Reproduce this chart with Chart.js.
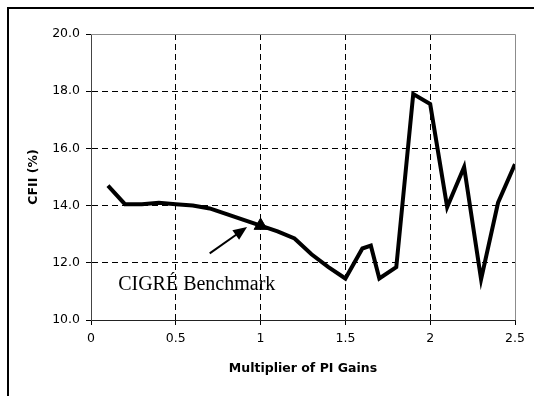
<!DOCTYPE html>
<html>
<head>
<meta charset="utf-8">
<script src="https://cdn.jsdelivr.net/npm/chart.js@4"></script>
<style>
  html, body { margin: 0; padding: 0; background: #fff; overflow: hidden; }
  #wrap { width: 534px; height: 396px; }
</style>
</head>
<body>
<div id="wrap"><canvas id="cfiiChart" width="534" height="396"></canvas></div>
<script>
// multiplier of PI gains vs CFII
const gains = [0.1, 0.2, 0.3, 0.4, 0.5, 0.6, 0.7, 0.8, 0.9, 1.0, 1.1, 1.2, 1.3, 1.4, 1.5, 1.6, 1.65, 1.7, 1.8, 1.9, 2.0, 2.1, 2.2, 2.3, 2.4, 2.5];
const cfii = [14.7, 14.05, 14.05, 14.1, 14.05, 14.0, 13.9, 13.7, 13.5, 13.3, 13.1, 12.85, 12.3, 11.85, 11.45, 12.5, 12.6, 11.45, 11.85, 17.9, 17.55, 13.95, 15.35, 11.42, 14.1, 15.45];

// CIGRE benchmark point
const benchmark = [{ x: 1.0, y: 13.3 }];

const xTickLabels = ['0', '0.5', '1', '1.5', '2', '2.5'];
const yTickLabels = ['10.0', '12.0', '14.0', '16.0', '18.0', '20.0'];

// annotation (data units)
const note = { text: 'CIGRÉ Benchmark', x: 0.16, y: 11.05, arrowFrom: [0.70, 12.33], arrowTo: [0.92, 13.25] };

const framePlugin = {
    id: 'frame',
    beforeDraw(chart) {
        const ctx = chart.ctx;
        ctx.save();
        ctx.strokeStyle = '#000';
        ctx.lineWidth = 2;
        ctx.strokeRect(8, 8, 560, 420);
        ctx.restore();
    },
    afterDraw(chart) {
        const { ctx, chartArea, scales } = chart;
        ctx.save();
        // top and right edge of the plot
        ctx.strokeStyle = '#8c8c8c';
        ctx.lineWidth = 1;
        ctx.beginPath();
        ctx.moveTo(chartArea.left, chartArea.top + 0.5);
        ctx.lineTo(chartArea.right + 0.5, chartArea.top + 0.5);
        ctx.lineTo(chartArea.right + 0.5, chartArea.bottom);
        ctx.stroke();

        // arrow
        const x1 = scales.x.getPixelForValue(note.arrowFrom[0]);
        const y1 = scales.y.getPixelForValue(note.arrowFrom[1]);
        const x2 = scales.x.getPixelForValue(note.arrowTo[0]);
        const y2 = scales.y.getPixelForValue(note.arrowTo[1]);
        const ang = Math.atan2(y2 - y1, x2 - x1);
        const head = 15;
        ctx.strokeStyle = '#000';
        ctx.fillStyle = '#000';
        ctx.lineWidth = 2;
        ctx.beginPath();
        ctx.moveTo(x1, y1);
        ctx.lineTo(x2 - head * 0.8 * Math.cos(ang), y2 - head * 0.8 * Math.sin(ang));
        ctx.stroke();
        ctx.beginPath();
        ctx.moveTo(x2, y2);
        ctx.lineTo(x2 - head * Math.cos(ang - 0.4), y2 - head * Math.sin(ang - 0.4));
        ctx.lineTo(x2 - head * Math.cos(ang + 0.4), y2 - head * Math.sin(ang + 0.4));
        ctx.closePath();
        ctx.fill();

        // label
        ctx.font = '20px "Liberation Serif", "Times New Roman", serif';
        ctx.textAlign = 'left';
        ctx.textBaseline = 'alphabetic';
        ctx.fillText(note.text, scales.x.getPixelForValue(note.x), scales.y.getPixelForValue(note.y));
        ctx.restore();
    }
};

const tickFont = { family: '"DejaVu Sans", sans-serif', size: 12.5 };
const titleFont = { family: '"DejaVu Sans", sans-serif', size: 12.5, weight: 'bold' };

new Chart(document.getElementById('cfiiChart').getContext('2d'), {
    type: 'line',
    data: {
        datasets: [{
            label: 'CFII',
            data: gains.map((g, i) => ({ x: g, y: cfii[i] })),
            borderColor: '#000',
            borderWidth: 4,
            pointRadius: 0,
            tension: 0,
            order: 2
        }, {
            label: 'CIGRE Benchmark',
            data: benchmark,
            showLine: false,
            pointStyle: 'triangle',
            pointRadius: 7.5,
            backgroundColor: '#000',
            borderColor: '#000',
            borderWidth: 1,
            order: 1
        }]
    },
    options: {
        responsive: false,
        animation: false,
        layout: { padding: { top: 34, right: 19, left: 0, bottom: 0 } },
        plugins: { legend: { display: false }, tooltip: { enabled: false } },
        scales: {
            x: {
                type: 'linear',
                min: 0,
                max: 2.5,
                afterFit: s => { s.height = 76; },
                ticks: {
                    stepSize: 0.5,
                    color: '#000',
                    font: tickFont,
                    padding: 6,
                    maxRotation: 0,
                    callback: (v, i) => xTickLabels[i]
                },
                grid: {
                    color: c => (c.tick && c.tick.value > 0 && c.tick.value < 2.5) ? '#000' : 'rgba(0,0,0,0)',
                    tickColor: '#000',
                    tickLength: 5,
                    lineWidth: 1
                },
                border: { color: '#222', width: 1, dash: [6, 4] },
                title: { display: true, text: 'Multiplier of PI Gains', color: '#000', font: titleFont, padding: { top: 0, bottom: 19.5 } }
            },
            y: {
                min: 10,
                max: 20,
                afterFit: s => { s.width = 91; },
                ticks: {
                    stepSize: 2,
                    color: '#000',
                    font: tickFont,
                    padding: 6,
                    callback: (v, i) => yTickLabels[i]
                },
                grid: {
                    color: c => (c.tick && c.tick.value > 10 && c.tick.value < 20) ? '#000' : 'rgba(0,0,0,0)',
                    tickColor: '#000',
                    tickLength: 5,
                    lineWidth: 1
                },
                border: { color: '#444', width: 1, dash: [6, 4] },
                title: { display: true, text: 'CFII (%)', color: '#000', font: titleFont, padding: { top: 26, bottom: 0 } }
            }
        }
    },
    plugins: [framePlugin]
});
</script>
</body>
</html>
